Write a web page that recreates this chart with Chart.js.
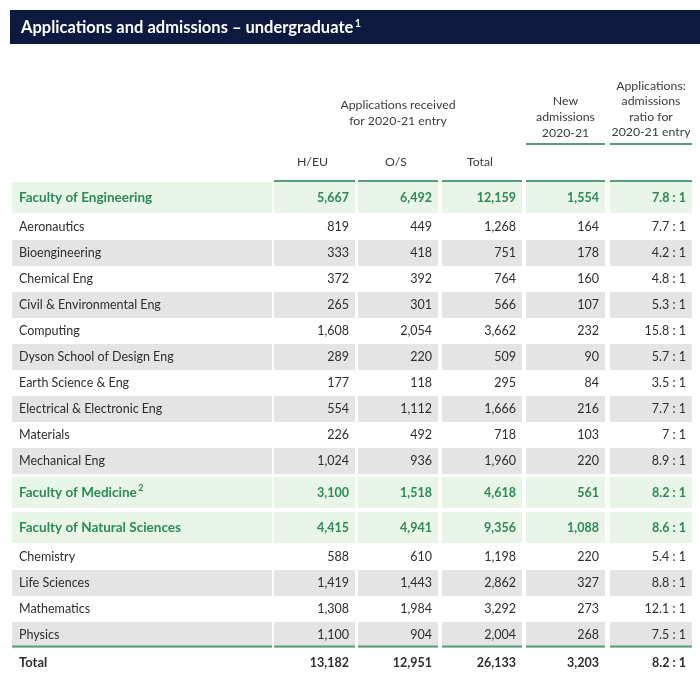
<!DOCTYPE html>
<html><head><meta charset="utf-8">
<script src="https://cdn.jsdelivr.net/npm/chart.js@4"></script>
<style>html,body{margin:0;padding:0;background:#fff;}#wrap{width:700px;height:680px;}</style>
</head><body><div id="wrap"><canvas id="c" width="700" height="680"></canvas></div>
<script>
// ---------- data ----------
const titleText = "Applications and admissions – undergraduate¹";
const groupHeader = ["Applications received", "for 2020-21 entry"];
const newAdmHeader = ["New", "admissions", "2020-21"];
const ratioHeader = ["Applications:", "admissions", "ratio for", "2020-21 entry"];
const columnLabels = ["H/EU", "O/S", "Total"];
const rowLabels = ["Faculty of Engineering", "Aeronautics", "Bioengineering", "Chemical Eng",
  "Civil & Environmental Eng", "Computing", "Dyson School of Design Eng", "Earth Science & Eng",
  "Electrical & Electronic Eng", "Materials", "Mechanical Eng", "Faculty of Medicine²",
  "Faculty of Natural Sciences", "Chemistry", "Life Sciences", "Mathematics", "Physics"];
const rowIsFaculty = [true, false, false, false, false, false, false, false, false, false, false,
  true, true, false, false, false, false];
const applicationsHEU = [5667, 819, 333, 372, 265, 1608, 289, 177, 554, 226, 1024, 3100, 4415, 588, 1419, 1308, 1100];
const applicationsOS = [6492, 449, 418, 392, 301, 2054, 220, 118, 1112, 492, 936, 1518, 4941, 610, 1443, 1984, 904];
const applicationsTotal = [12159, 1268, 751, 764, 566, 3662, 509, 295, 1666, 718, 1960, 4618, 9356, 1198, 2862, 3292, 2004];
const newAdmissions = [1554, 164, 178, 160, 107, 232, 90, 84, 216, 103, 220, 561, 1088, 220, 327, 273, 268];
const admissionRatio = ["7.8 : 1", "7.7 : 1", "4.2 : 1", "4.8 : 1", "5.3 : 1", "15.8 : 1", "5.7 : 1", "3.5 : 1",
  "7.7 : 1", "7 : 1", "8.9 : 1", "8.2 : 1", "8.6 : 1", "5.4 : 1", "8.8 : 1", "12.1 : 1", "7.5 : 1"];
const totalLabel = "Total";
const totalValues = [13182, 12951, 26133, 3203];
const totalRatio = "8.2 : 1";

// ---------- layout / style ----------
const C = {
  navy: "#0b1a3e", green: "#2b8a5a", greenBg: "#e9f5e9", grayBg: "#e4e4e4",
  rule: "#579e7d", text: "#2e2e2e", head: "#3c3c3c"
};
const FONT = "Lato, 'Open Sans', sans-serif";
const L = {
  title: { x0: 10, x1: 700, y0: 10, y1: 44, tx: 21 },
  cols: [[12, 272], [274, 355], [358, 438], [442, 522], [526, 605], [610, 692]],
  pad: 6,
  tableTop: 182,
  facultyH: 32, rowH: 26, gapBeforeFac: 3, totalTop: 648, totalH: 30,
  ruleHead: 181, ruleSub: 144, ruleTotal: 646.5
};
const fmt = v => v.toLocaleString("en-GB");
const SUP = { "¹": "1", "²": "2", "³": "3" };

// draw text, rendering a trailing superscript digit as a raised smaller glyph
function drawLabel(ctx, text, x, y, size, weight) {
  let main = text, sup = null;
  const last = text.slice(-1);
  if (SUP[last]) { main = text.slice(0, -1); sup = SUP[last]; }
  ctx.font = weight + " " + size + "px " + FONT;
  ctx.fillText(main, x, y);
  if (sup) {
    const w = ctx.measureText(main).width;
    ctx.font = weight + " " + Math.round(size * 0.68) + "px " + FONT;
    ctx.fillText(sup, x + w + 1.5, y - size * 0.3);
  }
}

const tablePlugin = {
  id: "tablePlugin",
  beforeDraw(chart) {
    const ctx = chart.ctx, xs = chart.scales.x, ys = chart.scales.y;
    const X = v => xs.getPixelForValue(v), Y = v => ys.getPixelForValue(v);
    ctx.save();
    ctx.fillStyle = "#fff"; ctx.fillRect(0, 0, chart.width, chart.height);
    // title bar
    ctx.fillStyle = C.navy;
    ctx.fillRect(X(L.title.x0), Y(L.title.y0), X(L.title.x1) - X(L.title.x0), Y(L.title.y1) - Y(L.title.y0));
    ctx.fillStyle = "#fff"; ctx.textBaseline = "middle"; ctx.textAlign = "left";
    drawLabel(ctx, titleText, X(L.title.tx), Y((L.title.y0 + L.title.y1) / 2 + 1), 16.5, "bold");

    // headers
    ctx.fillStyle = C.head; ctx.font = "12.3px " + FONT; ctx.textAlign = "center";
    const mid = i => (L.cols[i][0] + L.cols[i][1]) / 2;
    const grpC = (L.cols[1][0] + L.cols[3][1]) / 2;
    groupHeader.forEach((t, i) => ctx.fillText(t, X(grpC), Y(105 + i * 16)));
    newAdmHeader.forEach((t, i) => ctx.fillText(t, X(mid(4)), Y(101 + i * 16)));
    ratioHeader.forEach((t, i) => ctx.fillText(t, X(mid(5)), Y(86 + i * 15.4)));
    columnLabels.forEach((t, i) => ctx.fillText(t, X(mid(i + 1) - 2), Y(162)));

    const rule = (y, from, to) => {
      ctx.fillStyle = C.rule;
      for (let i = from; i <= to; i++) ctx.fillRect(X(L.cols[i][0]), Y(y - 1), X(L.cols[i][1]) - X(L.cols[i][0]), 2);
    };
    rule(L.ruleSub, 4, 5);
    rule(L.ruleHead, 1, 5);

    // rows
    let y = L.tableTop, stripe = 0;
    rowLabels.forEach((lab, r) => {
      const fac = rowIsFaculty[r];
      let h = L.rowH;
      if (fac) {
        if (r > 0) y += L.gapBeforeFac;
        h = L.facultyH - 1;
        stripe = 0;
      }
      let bg = null;
      if (fac) bg = C.greenBg; else { stripe++; if (stripe % 2 === 0) bg = C.grayBg; }
      if (bg) {
        ctx.fillStyle = bg;
        L.cols.forEach(c => ctx.fillRect(X(c[0]), Y(y), X(c[1]) - X(c[0]), Y(y + h) - Y(y)));
      }
      const cy = y + h / 2;
      ctx.fillStyle = fac ? C.green : C.text;
      ctx.textAlign = "left";
      drawLabel(ctx, lab, X(L.cols[0][0] + 7), Y(cy), fac ? 13.5 : 12.5, fac ? "bold" : "normal");
      ctx.font = (fac ? "bold 12.5px " : "12.5px ") + FONT;
      ctx.textAlign = "right";
      const vals = [fmt(applicationsHEU[r]), fmt(applicationsOS[r]), fmt(applicationsTotal[r]), fmt(newAdmissions[r]), admissionRatio[r]];
      vals.forEach((v, i) => ctx.fillText(v, X(L.cols[i + 1][1] - L.pad), Y(cy)));
      y += h;
      if (fac) y += 1;
    });

    // total
    rule(L.ruleTotal, 0, 5);
    const ty = L.totalTop + L.totalH / 2;
    ctx.fillStyle = C.text; ctx.font = "bold 13px " + FONT; ctx.textAlign = "left";
    ctx.fillText(totalLabel, X(L.cols[0][0] + 7), Y(ty));
    ctx.textAlign = "right"; ctx.font = "bold 12.5px " + FONT;
    totalValues.forEach((v, i) => ctx.fillText(fmt(v), X(L.cols[i + 1][1] - L.pad), Y(ty)));
    ctx.fillText(totalRatio, X(L.cols[5][1] - L.pad), Y(ty));
    ctx.restore();
  }
};

new Chart(document.getElementById("c"), {
  type: "scatter",
  data: { datasets: [] },
  options: {
    responsive: false, animation: false, devicePixelRatio: 1,
    layout: { padding: 0 },
    plugins: { legend: { display: false }, tooltip: { enabled: false } },
    scales: {
      x: { type: "linear", min: 0, max: 700, display: false },
      y: { type: "linear", min: 0, max: 680, reverse: true, display: false }
    }
  },
  plugins: [tablePlugin]
});
</script></body></html>
